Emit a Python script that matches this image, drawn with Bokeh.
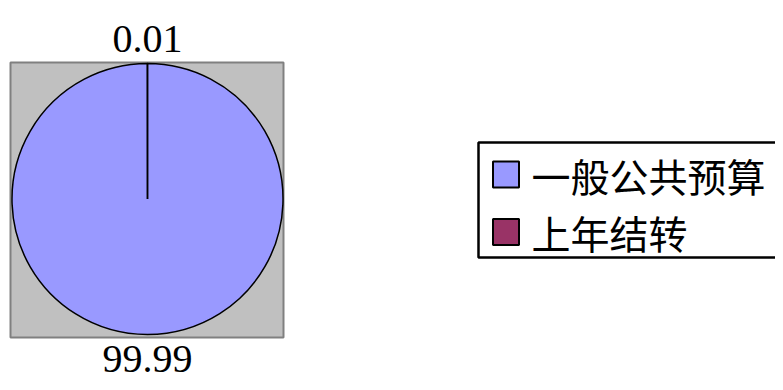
import math
from bokeh.plotting import figure
from bokeh.models import ColumnDataSource, Range1d
from bokeh.core.properties import value
from bokeh.embed import file_html
from bokeh.resources import INLINE

# ---- data ----
categories = ["一般公共预算", "上年结转"]
shares = [99.99, 0.01]
colors = ["#9999FF", "#993366"]

# ---- layout (pixels) ----
W, H = 775, 382
cx, cy, R = 147, 183.5, 135.5
label_r = 160

p = figure(width=W, height=H, output_backend="svg", toolbar_location=None,
           x_range=Range1d(0, W), y_range=Range1d(0, H), min_border=0,
           background_fill_color="white", border_fill_color="white")
p.axis.visible = False
p.grid.visible = False
p.outline_line_color = None

# plot area background
p.quad(left=[10], right=[283], bottom=[45], top=[320],
       fill_color="#C0C0C0", line_color="#808080", line_width=2)

# wedges
total = sum(shares)
starts, ends, mids = [], [], []
cum = 0.0
for s in shares:
    a0 = math.pi / 2 - 2 * math.pi * cum / total
    cum += s
    a1 = math.pi / 2 - 2 * math.pi * cum / total
    starts.append(a0)
    ends.append(a1)
    mids.append((a0 + a1) / 2)

src = ColumnDataSource(dict(cat=categories, val=shares, color=colors,
                            start=starts, end=ends))
p.wedge(x=cx, y=cy, radius=R, start_angle="start", end_angle="end",
        direction="clock", fill_color="color", line_color="black",
        line_width=1.5, source=src)

# value labels outside the pie
lx = [cx + label_r * math.cos(m) for m in mids]
ly = [cy + label_r * math.sin(m) for m in mids]
labels = [f"{v:.2f}" for v in shares]
p.text(x=lx, y=ly, text=labels, text_align="center", text_baseline="middle",
       text_font=value("Liberation Serif"), text_font_size="40px",
       text_color="black")

# legend (drawn manually)
p.quad(left=[478], right=[800], bottom=[125], top=[240],
       fill_color="white", line_color="black", line_width=2.5)
leg_y = [208, 150.5]
p.rect(x=[505.5] * len(categories), y=leg_y, width=26, height=26,
       fill_color=colors, line_color="black", line_width=2)
p.text(x=[531] * len(categories), y=leg_y, text=categories,
       text_align="left", text_baseline="middle",
       text_font=value("Noto Sans CJK SC"), text_font_size="39px",
       text_color="black")

open("out.html", "w").write(file_html(p, INLINE))
